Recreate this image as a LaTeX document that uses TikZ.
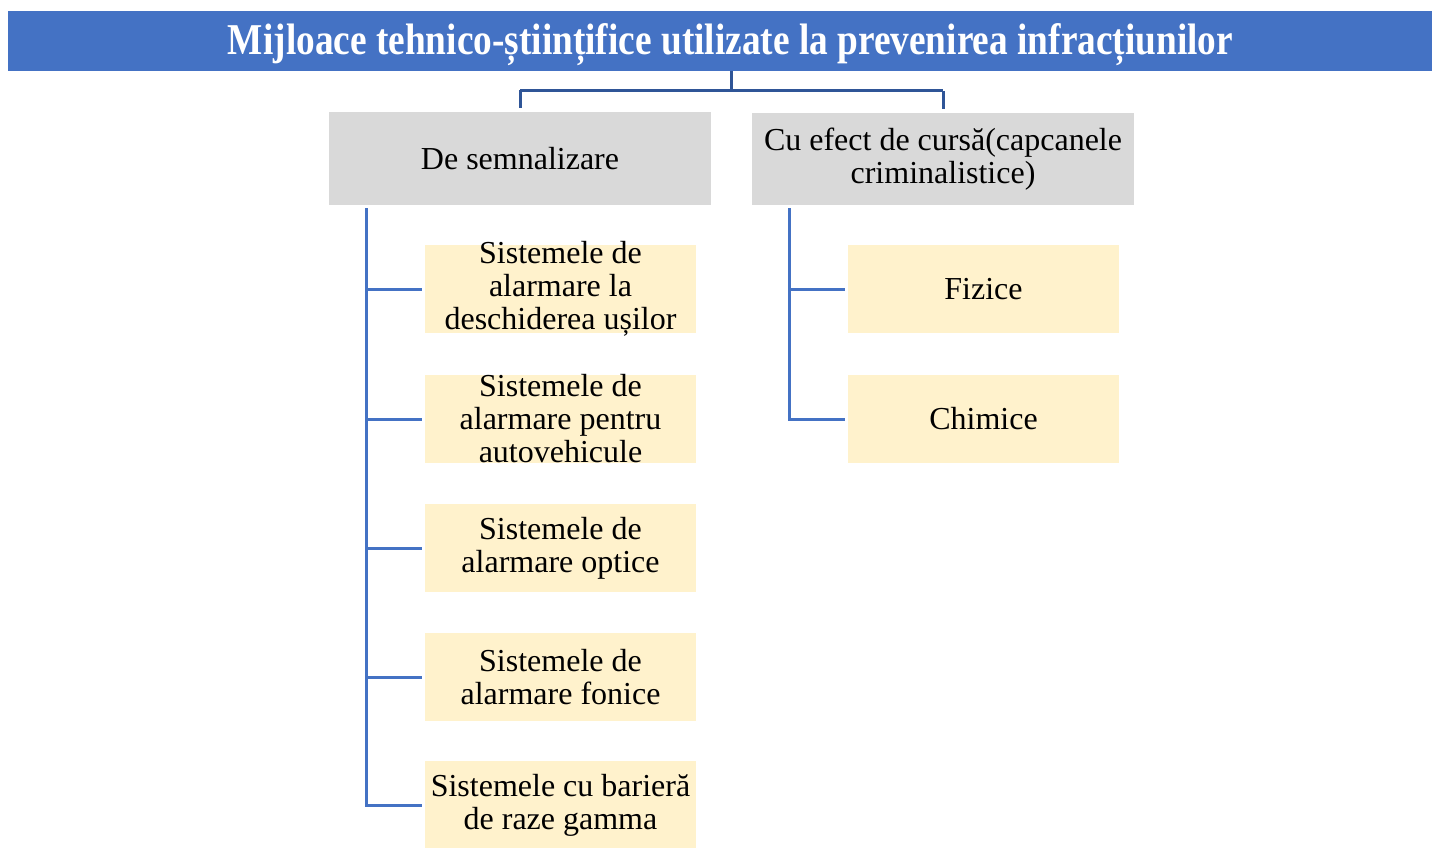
\documentclass[tikz,border=0pt]{standalone}
\usepackage{fontspec}
\usepackage{graphicx}
\setmainfont{Liberation Serif}
\usetikzlibrary{calc}
\definecolor{titleblue}{HTML}{4472C4}
\definecolor{linedark}{HTML}{2F5597}
\definecolor{linemid}{HTML}{4472C4}
\definecolor{greybox}{HTML}{D9D9D9}
\definecolor{yelbox}{HTML}{FFF2CC}
\tikzset{
  titlebox/.style={rectangle, fill=titleblue, inner sep=0pt, minimum width=1424pt, minimum height=60pt},
  titletext/.style={inner sep=0pt, text=white, font=\bfseries\fontsize{44}{46}\selectfont},
  catbox/.style={rectangle, fill=greybox, inner sep=0pt, minimum width=382pt, minimum height=92pt, align=center, font=\fontsize{32}{33}\selectfont},
  itembox/.style={rectangle, fill=yelbox, inner xsep=0pt, inner ysep=-6pt, minimum width=271pt, minimum height=88pt, align=center, font=\fontsize{32}{33}\selectfont},
  topconn/.style={draw=linedark, line width=3pt},
  conn/.style={draw=linemid, line width=3pt},
}
\begin{document}
\begin{tikzpicture}[x=1pt,y=-1pt]
\useasboundingbox (0,0) rectangle (1432,848);
\node[titlebox] (title) at (720,41) {};
\node[titletext] (titlet) at (730.5,45) {\resizebox{1005pt}{\height}{Mijloace tehnico-științifice utilizate la prevenirea infracțiunilor}};
\node[catbox] (sem) at (520,158.5) {\raisebox{-2pt}{De semnalizare}};
\node[catbox] (cur) at (943,159) {Cu efect de cursă(capcanele\\criminalistice)};
\node[itembox] (a1) at (560.5,289) {Sistemele de\\alarmare la\\deschiderea ușilor};
\node[itembox] (a2) at (560.5,419) {Sistemele de\\alarmare pentru\\autovehicule};
\node[itembox] (a3) at (560.5,548) {Sistemele de\\alarmare optice};
\node[itembox] (a4) at (560.5,677) {Sistemele de\\alarmare fonice};
\node[itembox] (a5) at (560.5,805) {Sistemele cu barieră\\de raze gamma};
\node[itembox] (b1) at (983.5,289) {Fizice};
\node[itembox] (b2) at (983.5,419) {Chimice};
% top connector
\coordinate (tsplit) at (731,91);
\coordinate (tstart) at (731,71);
\draw[topconn] (tstart) -- (tsplit);
\draw[topconn] (sem.north |- tsplit) -- (cur.north |- tsplit);
\draw[topconn] ($(sem.north)+(0,-22)$) -- ($(sem.north)+(0,-4)$);
\draw[topconn] ($(cur.north)+(0,-22)$) -- ($(cur.north)+(0,-4)$);
% left branch
\coordinate (ltop) at (366,208);
\draw[conn] (ltop) |- ([xshift=-3pt]a5.west);
\foreach \n in {a1,a2,a3,a4}{
  \draw[conn] (ltop |- \n.west) -- ([xshift=-3pt]\n.west);
}
% right branch
\coordinate (rtop) at (789,208);
\draw[conn] (rtop) |- ([xshift=-3pt]b2.west);
\draw[conn] (rtop |- b1.west) -- ([xshift=-3pt]b1.west);
\end{tikzpicture}
\end{document}
